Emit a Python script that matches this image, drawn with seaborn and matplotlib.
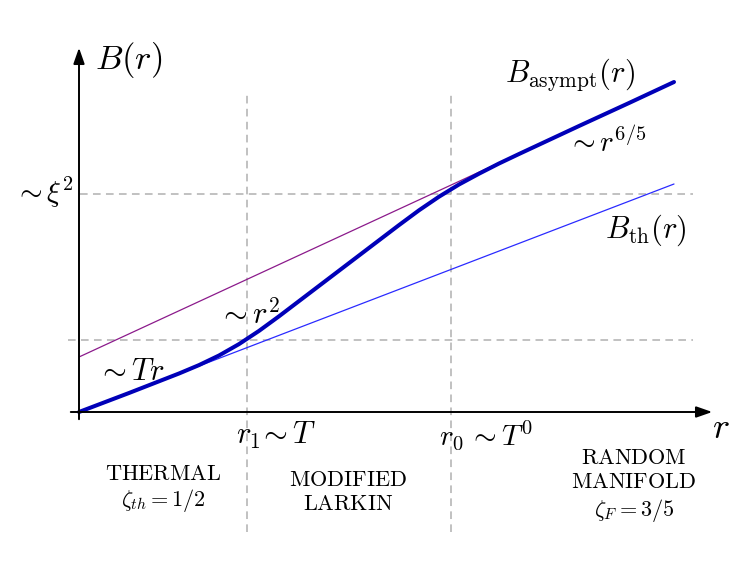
import matplotlib
matplotlib.use("Agg")
import matplotlib.pyplot as plt
import seaborn as sns
import numpy as np

sns.set_theme(style="white")
plt.rcParams['mathtext.fontset'] = 'cm'
plt.rcParams['font.family'] = ['DejaVu Serif']
plt.rcParams['text.color'] = 'black'

# Data (schematic units)
r_curve = [0.00, 0.50, 1.00, 1.20, 1.40, 1.60, 1.80, 2.00, 2.20, 2.60, 3.00, 3.20, 3.40,
           3.60, 3.80, 4.00, 4.20, 4.40, 5.00, 5.50, 5.95]
B_curve = [0.00, 0.19, 0.385, 0.469, 0.565, 0.679, 0.811, 0.957, 1.109, 1.413, 1.717, 1.869, 2.017,
           2.153, 2.275, 2.383, 2.485, 2.580, 2.860, 3.090, 3.300]
r_th = [0.00, 5.95]
B_th = [0.00, 2.28]
r_asym = [0.00, 5.95]
B_asym = [0.55, 3.30]
r1 = 1.68
r0 = 3.72
xi2 = 2.18
B_r1 = 0.72

fig = plt.figure(figsize=(7.47, 5.68), dpi=100)
ax = fig.add_axes([0, 0, 1, 1])
ax.set_xlim(-0.79, 6.68)
ax.set_ylim(-1.56, 4.12)
ax.axis('off')

# dashed guides
dash = dict(color='#b0b0b0', lw=1.1, ls=(0, (5, 3.5)))
ax.plot([0.01, 6.14], [xi2, xi2], **dash)
ax.plot([-0.11, 6.14], [B_r1, B_r1], **dash)
ax.plot([r1, r1], [-1.20, 3.17], **dash)
ax.plot([r0, r0], [-1.20, 3.17], **dash)

# lines
sns.lineplot(x=r_th, y=B_th, ax=ax, color='#2a2aff', lw=0.9, sort=False)
sns.lineplot(x=r_asym, y=B_asym, ax=ax, color='#8b1a8b', lw=0.9, sort=False)
sns.lineplot(x=r_curve, y=B_curve, ax=ax, color='#0000b8', lw=2.9, sort=False)
for l in ax.get_lines()[-1:]:
    l.set_solid_joinstyle('round')
    l.set_solid_capstyle('round')

# axes arrows
ax.annotate('', xy=(6.36, 0), xytext=(-0.11, 0),
            arrowprops=dict(arrowstyle='-|>,head_length=0.8,head_width=0.28', color='black', lw=1.4))
ax.annotate('', xy=(0, 3.67), xytext=(0, -0.10),
            arrowprops=dict(arrowstyle='-|>,head_length=0.8,head_width=0.28', color='black', lw=1.4))

# labels
ax.text(0.16, 3.52, r'$B(r)$', fontsize=25, va='center', ha='left')
ax.text(-0.05, xi2 + 0.02, r'$\sim\xi^2$', fontsize=21, va='center', ha='right')
ax.text(4.26, 3.37, r'$B_{\rm asympt}(r)$', fontsize=22, va='center', ha='left')
ax.text(4.88, 2.70, r'$\sim r^{6/5}$', fontsize=21, va='center', ha='left')
ax.text(5.26, 1.82, r'$B_{\rm th}(r)$', fontsize=22, va='center', ha='left')
ax.text(1.39, 0.97, r'$\sim r^2$', fontsize=22, va='center', ha='left')
ax.text(0.18, 0.40, r'$\sim Tr$', fontsize=22, va='center', ha='left')
ax.text(1.57, -0.23, r'$r_1\!\sim T$', fontsize=22, va='center', ha='left')
ax.text(3.60, -0.23, r'$r_0\,\sim T^0$', fontsize=21, va='center', ha='left')
ax.text(6.33, -0.16, r'$r$', fontsize=26, va='center', ha='left')

fs = 16
ax.text(0.84, -0.735, r'$\mathrm{THERMAL}$', fontsize=fs, ha='center', va='bottom')
ax.text(0.84, -0.755, r'$\zeta_{th}=1/2$', fontsize=fs, ha='center', va='top')
ax.text(2.69, -0.68, r'$\mathrm{MODIFIED}$', fontsize=fs, ha='center', va='center')
ax.text(2.69, -0.92, r'$\mathrm{LARKIN}$', fontsize=fs, ha='center', va='center')
ax.text(5.55, -0.46, r'$\mathrm{RANDOM}$', fontsize=fs, ha='center', va='center')
ax.text(5.55, -0.70, r'$\mathrm{MANIFOLD}$', fontsize=fs, ha='center', va='center')
ax.text(5.55, -0.98, r'$\zeta_F=3/5$', fontsize=fs, ha='center', va='center')

fig.savefig('out.png', dpi=100, facecolor='white')
